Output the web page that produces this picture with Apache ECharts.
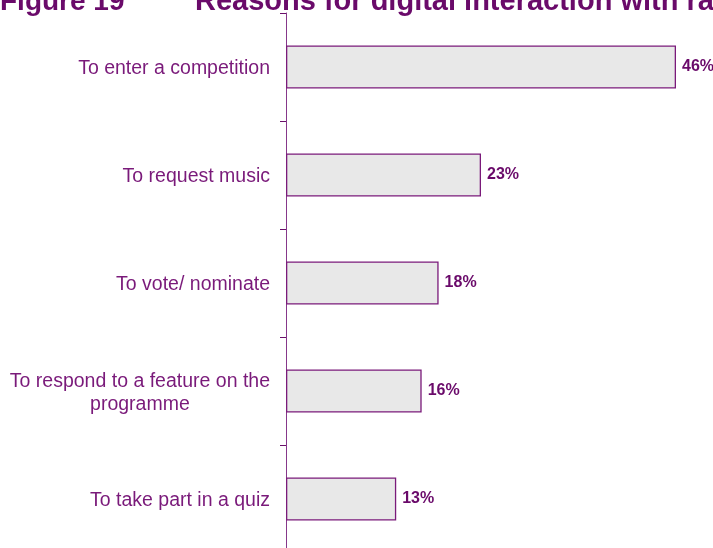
<!DOCTYPE html>
<html>
<head>
<meta charset="utf-8">
<script src="https://cdn.jsdelivr.net/npm/echarts@6/dist/echarts.min.js"></script>
<style>html,body{margin:0;padding:0;background:#fff;}#c{width:713px;height:548px;}</style>
</head>
<body>
<div id="c"></div>
<script>
const categories = [
  'To enter a competition',
  'To request music',
  'To vote/ nominate',
  'To respond to a feature on the\nprogramme',
  'To take part in a quiz'
];
const values = [46, 23, 18, 16, 13];
const titleLeft = 'Figure 19';
const titleRight = 'Reasons for digital interaction with radio';

const chart = echarts.init(document.getElementById('c'));
chart.setOption({
  animation: false,
  backgroundColor: '#ffffff',
  graphic: [
    { type: 'text', left: 0, top: -12, style: { text: titleLeft, font: 'bold 28px "Liberation Sans", Arial, sans-serif', fill: '#6A0A6A' } },
    { type: 'text', left: 195, top: -13, style: { text: titleRight, font: 'bold 29px "Liberation Sans", Arial, sans-serif', fill: '#6A0A6A' } }
  ],
  grid: { left: 286, top: 13, width: 390, height: 540, containLabel: false, outerBoundsMode: 'none' },
  xAxis: { type: 'value', min: 0, max: 46, show: false },
  yAxis: {
    type: 'category',
    data: categories,
    inverse: true,
    axisLine: { show: true, lineStyle: { color: '#86388A', width: 1 } },
    axisTick: { show: true, length: 6, lineStyle: { color: '#6A106A' } },
    axisLabel: {
      margin: 16,
      padding: [4, 0, 0, 0],
      fontFamily: '"Liberation Sans", Arial, sans-serif',
      fontSize: 19.5,
      color: '#7A1A7A',
      lineHeight: 23,
      formatter: function (v) { return v.split('\n').map(s => '{c|' + s + '}').join('\n'); },
      rich: { c: { align: 'center', fontSize: 19.5, lineHeight: 23, color: '#7A1A7A', fontFamily: '"Liberation Sans", Arial, sans-serif' } }
    }
  },
  series: [{
    type: 'bar',
    data: values,
    barWidth: 43,
    itemStyle: { color: '#E8E8E8', borderColor: '#7A1A7A', borderWidth: 1.3 },
    label: {
      show: true,
      position: 'right',
      distance: 6,
      padding: [2, 0, 0, 0],
      formatter: '{c}%',
      fontFamily: '"Liberation Sans", Arial, sans-serif',
      fontWeight: 'bold',
      fontSize: 16,
      color: '#6A0A6A'
    }
  }]
});
</script>
</body>
</html>
